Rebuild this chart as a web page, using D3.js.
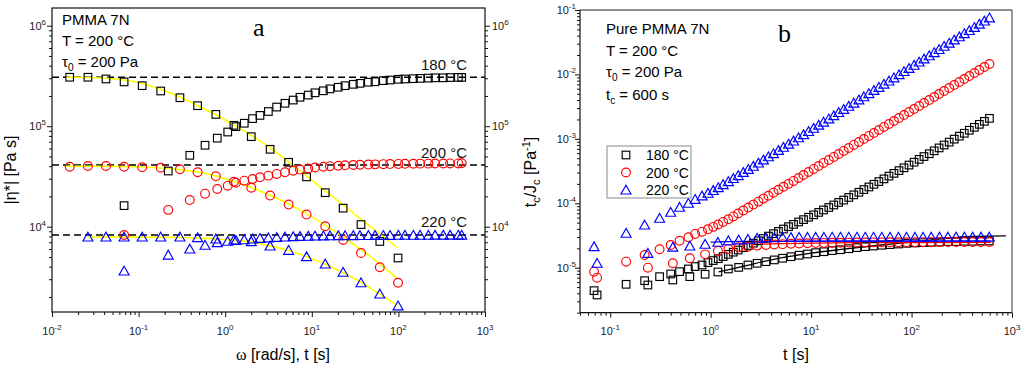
<!DOCTYPE html>
<html><head><meta charset="utf-8">
<script src="https://cdn.jsdelivr.net/npm/d3@7"></script>
<style>body{margin:0;background:#fff} svg text{font-family:"Liberation Sans",Arial,sans-serif}</style>
</head><body><svg id="c" width="1024" height="367"></svg>
<script>
// ---------- Panel a data ----------
const aOmega = [0.016,0.026,0.042,0.068,0.11,0.18,0.3,0.48,0.78,1.26,2.0,3.3,5.4,8.7,14.3,23,37,61,99];
const aEta180 = [3.07e5,3.07e5,2.95e5,2.76e5,2.53e5,2.24e5,1.92e5,1.6e5,1.31e5,1.02e5,7.87e4,5.89e4,4.37e4,3.13e4,2.18e4,1.53e4,1.05e4,7.13e3,4.88e3];
const aEta200 = [3.95e4,4.02e4,4.02e4,3.95e4,3.9e4,3.86e4,3.72e4,3.48e4,3.17e4,2.8e4,2.44e4,2.04e4,1.66e4,1.32e4,1.01e4,7.38e3,5.47e3,3.95e3,2.77e3];
const aOmega220 = [0.026,0.042,0.068,0.11,0.18,0.3,0.48,0.78,1.26,2.0,3.3,5.4,8.7,14.3,23,37,61,99];
const aEta220 = [7.9e3,7.9e3,7.9e3,7.9e3,7.9e3,7.9e3,7.78e3,7.55e3,7.37e3,7.1e3,6.43e3,5.82e3,5.03e3,4.25e3,3.52e3,2.77e3,2.14e3,1.63e3];

const aTime = [0.068,0.22,0.39,0.585,0.81,1.07,1.33,1.66,2.07,2.52,3.15,3.93,4.9,6.1,7.3,9.1,10.9,13.6,16.2,20.2,24.2,30.2,36,45,53.7,67,80,100,119,149,178,222,265,330,395,492,538];
const aCreep180 = [1.62e4,3.58e4,5.13e4,6.46e4,7.6e4,8.75e4,9.9e4,1.07e5,1.19e5,1.28e5,1.4e5,1.55e5,1.69e5,1.82e5,1.94e5,2.04e5,2.15e5,2.25e5,2.35e5,2.44e5,2.53e5,2.61e5,2.67e5,2.74e5,2.77e5,2.84e5,2.88e5,2.93e5,2.95e5,2.97e5,2.99e5,3.01e5,3.03e5,3.03e5,3.05e5,3.06e5,3.06e5];
const aCreep200 = [8.27e3,1.47e4,1.84e4,2.13e4,2.37e4,2.56e4,2.74e4,2.87e4,2.98e4,3.1e4,3.22e4,3.35e4,3.48e4,3.6e4,3.7e4,3.8e4,3.88e4,3.95e4,4.0e4,4.04e4,4.08e4,4.11e4,4.13e4,4.15e4,4.17e4,4.19e4,4.2e4,4.21e4,4.22e4,4.23e4,4.24e4,4.24e4,4.25e4,4.25e4,4.26e4,4.26e4,4.27e4];
const aCreep220 = [3.62e3,5.22e3,6.0e3,6.53e3,6.94e3,7.16e3,7.3e3,7.42e3,7.55e3,7.65e3,7.75e3,7.83e3,7.9e3,7.96e3,8.0e3,8.04e3,8.07e3,8.1e3,8.12e3,8.14e3,8.15e3,8.16e3,8.17e3,8.18e3,8.19e3,8.2e3,8.2e3,8.21e3,8.21e3,8.22e3,8.22e3,8.22e3,8.23e3,8.23e3,8.23e3,8.24e3,8.24e3];

const aFitOmega180 = [0.0145,0.026,0.042,0.068,0.11,0.18,0.3,0.48,0.78,1.26,2.0,3.3,5.4,8.7,14,23,37,60,97];
const aFit180 = [3.07e5,3.05e5,3.0e5,2.88e5,2.66e5,2.33e5,1.95e5,1.6e5,1.3e5,1.03e5,8.1e4,6.1e4,4.4e4,3.2e4,2.3e4,1.65e4,1.18e4,8.6e3,6.2e3];
const aFitOmega200 = [0.0145,0.03,0.068,0.11,0.18,0.3,0.48,0.78,1.26,2.0,3.3,5.4,8.7,14,23,37,60,97];
const aFit200 = [4.0e4,4.0e4,3.97e4,3.92e4,3.84e4,3.7e4,3.5e4,3.2e4,2.82e4,2.45e4,2.05e4,1.68e4,1.34e4,1.05e4,7.9e3,5.9e3,4.3e3,3.05e3];
const aFitOmega220 = [0.026,0.1,0.3,0.6,1.0,2.0,3.3,5.4,8.7,14,23,37,60,97];
const aFit220 = [7.9e3,7.88e3,7.8e3,7.65e3,7.45e3,7.05e3,6.45e3,5.8e3,5.05e3,4.25e3,3.5e3,2.8e3,2.15e3,1.65e3];

const aPlateau = [3.07e5,4.11e4,8.27e3];
const tempLabels = ["180 °C","200 °C","220 °C"];

// ---------- Panel b data ----------
const bTimeUp = [0.069,0.144,0.22,0.31,0.40,0.49,0.60,0.70,0.82,0.94,
1.06,1.19,1.33,1.5,1.68,1.88,2.11,2.37,2.66,2.99,
3.35,3.76,4.22,4.73,5.31,5.96,6.68,7.5,8.41,9.44,
10.6,11.9,13.3,15,16.8,18.8,21.1,23.7,26.6,29.9,
33.5,37.6,42.2,47.3,53.1,59.6,66.8,75,84.1,94.4,
106,119,133,150,168,188,211,237,266,299,
335,376,422,473,531,596];
const bUp180 = [4.4e-6,5.52e-6,6.28e-6,7.25e-6,7.98e-6,8.67e-6,9.55e-6,1.04e-5,1.1e-5,1.2e-5,
1.29e-5,1.38e-5,1.49e-5,1.61e-5,1.74e-5,1.88e-5,2.04e-5,2.21e-5,2.4e-5,2.61e-5,
2.84e-5,3.09e-5,3.37e-5,3.66e-5,3.98e-5,4.33e-5,4.7e-5,5.12e-5,5.57e-5,6.07e-5,
6.61e-5,7.21e-5,7.87e-5,8.59e-5,9.4e-5,1.03e-4,1.12e-4,1.23e-4,1.35e-4,1.48e-4,
1.63e-4,1.79e-4,1.97e-4,2.17e-4,2.39e-4,2.64e-4,2.91e-4,3.21e-4,3.55e-4,3.92e-4,
4.34e-4,4.8e-4,5.31e-4,5.87e-4,6.52e-4,7.23e-4,8.02e-4,8.89e-4,9.89e-4,1.1e-3,
1.22e-3,1.36e-3,1.51e-3,1.68e-3,1.87e-3,2.08e-3];
const bUp200 = [8.67e-6,1.24e-5,1.57e-5,1.93e-5,2.25e-5,2.62e-5,2.96e-5,3.34e-5,3.62e-5,3.94e-5,
4.3e-5,4.68e-5,5.13e-5,5.65e-5,6.25e-5,6.93e-5,7.71e-5,8.57e-5,9.53e-5,1.06e-4,
1.18e-4,1.31e-4,1.46e-4,1.62e-4,1.8e-4,2.0e-4,2.22e-4,2.47e-4,2.75e-4,3.06e-4,
3.41e-4,3.79e-4,4.23e-4,4.7e-4,5.24e-4,5.82e-4,6.49e-4,7.21e-4,8.04e-4,8.93e-4,
9.95e-4,1.11e-3,1.23e-3,1.37e-3,1.53e-3,1.7e-3,1.89e-3,2.1e-3,2.34e-3,2.61e-3,
2.9e-3,3.23e-3,3.6e-3,4.0e-3,4.46e-3,4.96e-3,5.52e-3,6.14e-3,6.84e-3,7.6e-3,
8.47e-3,9.42e-3,1.05e-2,1.17e-2,1.3e-2,1.45e-2];
const bUp220 = [2.12e-5,3.42e-5,4.6e-5,5.85e-5,7.25e-5,8.67e-5,1.0e-4,1.15e-4,1.3e-4,1.43e-4,
1.58e-4,1.75e-4,1.95e-4,2.17e-4,2.42e-4,2.69e-4,3.01e-4,3.36e-4,3.76e-4,4.21e-4,
4.71e-4,5.27e-4,5.9e-4,6.61e-4,7.4e-4,8.28e-4,9.27e-4,1.04e-3,1.16e-3,1.3e-3,
1.46e-3,1.63e-3,1.82e-3,2.04e-3,2.29e-3,2.56e-3,2.86e-3,3.21e-3,3.59e-3,4.02e-3,
4.5e-3,5.04e-3,5.64e-3,6.31e-3,7.06e-3,7.91e-3,8.85e-3,9.91e-3,1.11e-2,1.24e-2,
1.39e-2,1.56e-2,1.74e-2,1.95e-2,2.18e-2,2.44e-2,2.74e-2,3.06e-2,3.43e-2,3.84e-2,
4.3e-2,4.81e-2,5.38e-2,6.03e-2,6.75e-2,7.55e-2];

const bTimeLow = [0.074,0.237,0.42,0.62,0.88,1.18,1.5,1.9,2.35,2.9,
3.55,4.3,5.2,6.3,7.6,9.2,11.1,13.4,16.2,19.6,
23.7,28.6,34.6,41.8,50.5,61,74,89,108,130,
157,190,230,278,336,406,491,594];
const bLow180 = [3.77e-6,5.38e-6,6.44e-6,7.25e-6,7.9e-6,8.58e-6,9.55e-6,1.01e-5,1.1e-5,1.17e-5,
1.24e-5,1.32e-5,1.4e-5,1.48e-5,1.56e-5,1.63e-5,1.71e-5,1.77e-5,1.84e-5,1.9e-5,
1.97e-5,2.05e-5,2.12e-5,2.17e-5,2.23e-5,2.28e-5,2.33e-5,2.39e-5,2.42e-5,2.45e-5,
2.48e-5,2.5e-5,2.54e-5,2.54e-5,2.57e-5,2.57e-5,2.6e-5,2.6e-5];
const bLow200 = [7.0e-6,1.0e-5,1.17e-5,1.4e-5,1.61e-5,1.82e-5,1.95e-5,2.07e-5,2.12e-5,2.2e-5,
2.25e-5,2.29e-5,2.32e-5,2.35e-5,2.37e-5,2.39e-5,2.41e-5,2.42e-5,2.43e-5,2.44e-5,
2.45e-5,2.46e-5,2.46e-5,2.47e-5,2.47e-5,2.48e-5,2.48e-5,2.48e-5,2.49e-5,2.49e-5,
2.49e-5,2.5e-5,2.5e-5,2.5e-5,2.5e-5,2.5e-5,2.5e-5,2.5e-5];
const bLow220 = [1.17e-5,1.67e-5,2.08e-5,2.17e-5,2.31e-5,2.48e-5,2.62e-5,2.69e-5,2.76e-5,2.86e-5,
2.9e-5,2.92e-5,2.94e-5,2.95e-5,2.96e-5,2.96e-5,2.97e-5,2.97e-5,2.98e-5,2.98e-5,
2.98e-5,2.98e-5,2.98e-5,2.98e-5,2.98e-5,2.98e-5,2.98e-5,2.98e-5,2.98e-5,2.98e-5,
2.99e-5,2.99e-5,2.99e-5,2.99e-5,2.99e-5,2.99e-5,2.99e-5,2.99e-5];

const bFitT180 = [1.2,2,5,10,20,50,100,200,400,870];
const bFit180 = [8.6e-6,1.03e-5,1.42e-5,1.68e-5,1.92e-5,2.25e-5,2.5e-5,2.8e-5,3.05e-5,3.12e-5];
const bFitT200 = [2.5,5,10,30,100,620];
const bFit200 = [2.3e-5,2.36e-5,2.4e-5,2.44e-5,2.46e-5,2.47e-5];
const bFitT220 = [1.0,2,10,100,620];
const bFit220 = [2.5e-5,2.56e-5,2.58e-5,2.58e-5,2.58e-5];

const legendLabels = ["180 °C","200 °C","220 °C"];
const colors = ["#000000","#ff0000","#0000ff"];

// ---------- drawing ----------
const svg = d3.select("#c");
const xA = d3.scaleLog().domain([0.01,1000]).range([52,485]);
const yA = d3.scaleLog().domain([1416,1.5e6]).range([312,8]);
const xB = d3.scaleLog().domain([0.05,1000]).range([580,1012]);
const yB = d3.scaleLog().domain([2e-6,0.1]).range([312.7,10]);

function decades(lo,hi){const a=[];for(let e=lo;e<=hi;e++)a.push(Math.pow(10,e));return a;}
function minors(lo,hi,dom){const a=[];for(let e=lo;e<hi;e++)for(let m=2;m<=9;m++){const v=m*Math.pow(10,e);if(v>=dom[0]&&v<=dom[1])a.push(v);}return a;}
function clean(g){g.select(".domain").remove();g.selectAll("text").remove();g.selectAll("line").attr("stroke","#111").attr("stroke-width",1);}

function expLabel(x,y,exp,anchor){
  const t=svg.append("text").attr("x",x).attr("y",y).attr("text-anchor",anchor).attr("font-size",11).attr("fill","#222");
  t.append("tspan").text("10");
  t.append("tspan").attr("dy",-5).attr("font-size",8).text(exp);
}

// Panel a axes
svg.append("g").attr("transform","translate(52,0)").call(d3.axisLeft(yA).tickValues(decades(4,6)).tickSize(5)).call(clean);
svg.append("g").attr("transform","translate(52,0)").call(d3.axisLeft(yA).tickValues(minors(3,6,yA.domain())).tickSize(3)).call(clean);
svg.append("g").attr("transform","translate(485,0)").call(d3.axisRight(yA).tickValues(decades(4,6)).tickSize(5)).call(clean);
svg.append("g").attr("transform","translate(485,0)").call(d3.axisRight(yA).tickValues(minors(3,6,yA.domain())).tickSize(3)).call(clean);
svg.append("g").attr("transform","translate(0,312)").call(d3.axisBottom(xA).tickValues(decades(-2,3)).tickSize(5)).call(clean);
svg.append("g").attr("transform","translate(0,312)").call(d3.axisBottom(xA).tickValues(minors(-2,3,xA.domain())).tickSize(3)).call(clean);
svg.append("rect").attr("x",52).attr("y",8).attr("width",433).attr("height",304).attr("fill","none").attr("stroke","#111").attr("stroke-width",1.2);
[4,5,6].forEach(e=>{expLabel(46,yA(Math.pow(10,e))+4,e,"end");expLabel(492,yA(Math.pow(10,e))+4,e,"start");});
[-2,-1,0,1,2,3].forEach(e=>expLabel(xA(Math.pow(10,e)),335,e,"middle"));

// Panel b axes
svg.append("g").attr("transform","translate(580,0)").call(d3.axisLeft(yB).tickValues(decades(-5,-1)).tickSize(5)).call(clean);
svg.append("g").attr("transform","translate(580,0)").call(d3.axisLeft(yB).tickValues(minors(-6,-1,yB.domain())).tickSize(3)).call(clean);
svg.append("g").attr("transform","translate(0,312.7)").call(d3.axisBottom(xB).tickValues(decades(-1,3)).tickSize(5)).call(clean);
svg.append("g").attr("transform","translate(0,312.7)").call(d3.axisBottom(xB).tickValues(minors(-2,3,xB.domain())).tickSize(3)).call(clean);
svg.append("line").attr("x1",580).attr("x2",1012).attr("y1",10).attr("y2",10).attr("stroke","#222").attr("stroke-width",1.2);
svg.append("line").attr("x1",1012).attr("x2",1012).attr("y1",10).attr("y2",312.7).attr("stroke","#555").attr("stroke-width",1.2);
svg.append("line").attr("x1",580).attr("x2",580).attr("y1",10).attr("y2",312.7).attr("stroke","#111").attr("stroke-width",1.2);
svg.append("line").attr("x1",580).attr("x2",1012).attr("y1",312.7).attr("y2",312.7).attr("stroke","#111").attr("stroke-width",1.2);
[-5,-4,-3,-2,-1].forEach(e=>expLabel(576,yB(Math.pow(10,e))+4,e,"end"));
[-1,0,1,2,3].forEach(e=>expLabel(xB(Math.pow(10,e)),335,e,"middle"));

// markers
function drawMarkers(kind,xs,ys,sx,sy,color){
  const data=xs.map((x,i)=>[x,ys[i]]);
  const g=svg.append("g").attr("fill","none").attr("stroke",color).attr("stroke-width",1.15);
  if(kind===0){g.selectAll("rect").data(data).join("rect").attr("x",d=>sx(d[0])-3.8).attr("y",d=>sy(d[1])-3.8).attr("width",7.6).attr("height",7.6);}
  else if(kind===1){g.selectAll("circle").data(data).join("circle").attr("cx",d=>sx(d[0])).attr("cy",d=>sy(d[1])).attr("r",4.4);}
  else {g.selectAll("path").data(data).join("path").attr("d",d=>{const x=sx(d[0]),y=sy(d[1]);return `M${x},${y-4.8}L${x+5},${y+4}L${x-5},${y+4}Z`;});}
}
function drawLine(xs,ys,sx,sy,color,w,dash){
  const line=d3.line().x(d=>sx(d[0])).y(d=>sy(d[1])).curve(d3.curveMonotoneX);
  const p=svg.append("path").datum(xs.map((x,i)=>[x,ys[i]])).attr("d",line).attr("fill","none").attr("stroke",color).attr("stroke-width",w);
  if(dash)p.attr("stroke-dasharray",dash);
}

// Panel a content
aPlateau.forEach(v=>{svg.append("line").attr("x1",52).attr("x2",485).attr("y1",yA(v)).attr("y2",yA(v)).attr("stroke","#000").attr("stroke-width",1.4).attr("stroke-dasharray","7,4");});
drawLine(aFitOmega180,aFit180,xA,yA,"#ffff00",1.6);
drawLine(aFitOmega200,aFit200,xA,yA,"#ffff00",1.6);
drawLine(aFitOmega220,aFit220,xA,yA,"#ffff00",1.6);
drawMarkers(0,aOmega,aEta180,xA,yA,colors[0]);
drawMarkers(1,aOmega,aEta200,xA,yA,colors[1]);
drawMarkers(2,aOmega220,aEta220,xA,yA,colors[2]);
drawMarkers(0,aTime,aCreep180,xA,yA,colors[0]);
drawMarkers(1,aTime,aCreep200,xA,yA,colors[1]);
drawMarkers(2,aTime,aCreep220,xA,yA,colors[2]);
[[70],[158],[227]].forEach((p,i)=>{svg.append("text").attr("x",467).attr("y",p[0]).attr("text-anchor","end").attr("font-size",15).attr("fill","#111").text(tempLabels[i]);});

// Panel a text
svg.append("text").attr("x",62).attr("y",25).attr("font-size",15).text("PMMA 7N");
svg.append("text").attr("x",62).attr("y",46).attr("font-size",15).text("T = 200 °C");
{const t=svg.append("text").attr("x",62).attr("y",67).attr("font-size",15);t.append("tspan").text("τ");t.append("tspan").attr("dy",4).attr("font-size",10).text("0");t.append("tspan").attr("dy",-4).text(" = 200 Pa");}
svg.append("text").attr("x",253).attr("y",36).attr("font-size",26).style("font-family","'Liberation Serif',serif").text("a");

// Panel b content
drawLine(bFitT180,bFit180,xB,yB,"#000",1.3);
drawLine(bFitT200,bFit200,xB,yB,"#ff0000",1.3);
drawLine(bFitT220,bFit220,xB,yB,"#0000ff",1.3);
drawMarkers(0,bTimeUp,bUp180,xB,yB,colors[0]);
drawMarkers(1,bTimeUp,bUp200,xB,yB,colors[1]);
drawMarkers(2,bTimeUp,bUp220,xB,yB,colors[2]);
drawMarkers(0,bTimeLow,bLow180,xB,yB,colors[0]);
drawMarkers(1,bTimeLow,bLow200,xB,yB,colors[1]);
drawMarkers(2,bTimeLow,bLow220,xB,yB,colors[2]);

svg.append("text").attr("x",606).attr("y",34).attr("font-size",15).text("Pure PMMA 7N");
svg.append("text").attr("x",606).attr("y",55.5).attr("font-size",15).text("T = 200 °C");
{const t=svg.append("text").attr("x",606).attr("y",77).attr("font-size",15);t.append("tspan").text("τ");t.append("tspan").attr("dy",4).attr("font-size",10).text("0");t.append("tspan").attr("dy",-4).text(" = 200 Pa");}
{const t=svg.append("text").attr("x",606).attr("y",100).attr("font-size",15);t.append("tspan").text("t");t.append("tspan").attr("dy",4).attr("font-size",10).text("c");t.append("tspan").attr("dy",-4).text(" = 600 s");}
svg.append("text").attr("x",778).attr("y",42).attr("font-size",26).style("font-family","'Liberation Serif',serif").text("b");

// legend
svg.append("rect").attr("x",607).attr("y",146).attr("width",84).attr("height",52).attr("fill","#fff").attr("stroke","#888").attr("stroke-width",1);
legendLabels.forEach((lab,i)=>{
  const cy=155+i*17.5, cx=626;
  const g=svg.append("g").attr("fill","none").attr("stroke",colors[i]).attr("stroke-width",1.15);
  if(i===0)g.append("rect").attr("x",cx-3.8).attr("y",cy-3.8).attr("width",7.6).attr("height",7.6);
  else if(i===1)g.append("circle").attr("cx",cx).attr("cy",cy).attr("r",4.4);
  else g.append("path").attr("d",`M${cx},${cy-4.8}L${cx+5},${cy+4}L${cx-5},${cy+4}Z`);
  svg.append("text").attr("x",646).attr("y",cy+5).attr("font-size",14).text(lab);
});

// axis titles
{const t=svg.append("text").attr("x",283).attr("y",360).attr("text-anchor","middle").attr("font-size",16);
 t.append("tspan").style("font-family","'Liberation Serif',serif").text("ω");t.append("tspan").text(" [rad/s], t [s]");}
svg.append("text").attr("x",796).attr("y",360).attr("text-anchor","middle").attr("font-size",16).text("t [s]");
svg.append("text").attr("transform","translate(16,170) rotate(-90)").attr("text-anchor","middle").attr("font-size",16).text("|η*| [Pa s]");
{const t=svg.append("text").attr("transform","translate(536,172) rotate(-90)").attr("text-anchor","middle").attr("font-size",16);
 t.append("tspan").text("t");t.append("tspan").attr("dy",4).attr("font-size",11).text("c");t.append("tspan").attr("dy",-4).text("/J");
 t.append("tspan").attr("dy",4).attr("font-size",11).text("c");t.append("tspan").attr("dy",-4).text(" [Pa");
 t.append("tspan").attr("dy",-6).attr("font-size",11).text("-1");t.append("tspan").attr("dy",6).text("]");}
</script></body></html>
